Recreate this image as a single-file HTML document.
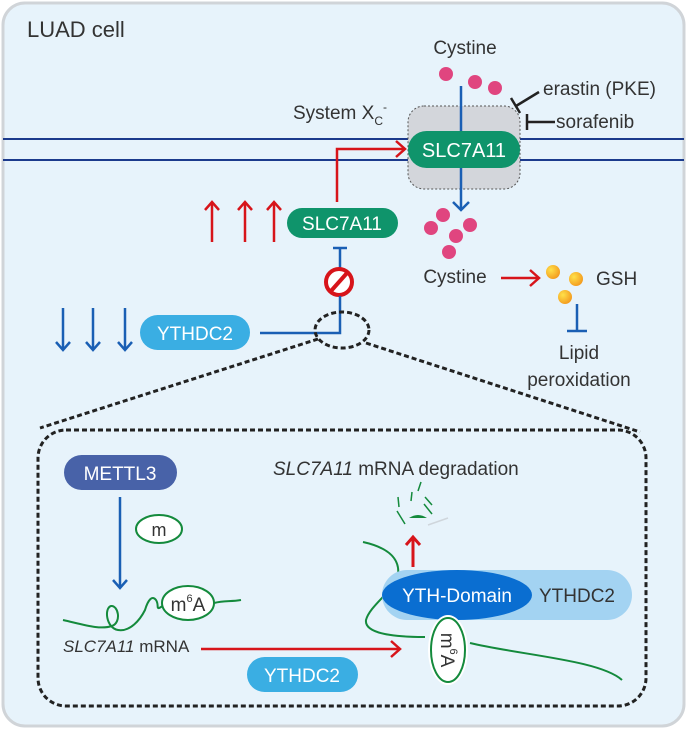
<!DOCTYPE html>
<html><head><meta charset="utf-8"><style>
html,body{margin:0;padding:0;background:#fff}
svg{display:block}
text{font-family:"Liberation Sans",Arial,sans-serif}
</style></head><body>
<svg width="688" height="730" viewBox="0 0 688 730" xmlns="http://www.w3.org/2000/svg">
<defs>
<radialGradient id="og" cx="0.35" cy="0.35" r="0.7"><stop offset="0" stop-color="#ffe14a"/><stop offset="1" stop-color="#f39a1e"/></radialGradient>
</defs>
<rect x="3" y="3" width="681" height="723" rx="22" fill="#e7f3fb" stroke="#d0d4d8" stroke-width="3"/>
<text x="27" y="37" font-size="22" fill="#333">LUAD cell</text>

<line x1="3" y1="139" x2="684" y2="139" stroke="#1b3a8c" stroke-width="2"/>
<line x1="3" y1="160" x2="684" y2="160" stroke="#1b3a8c" stroke-width="2"/>

<rect x="408" y="106" width="112" height="83" rx="16" fill="#d3d6db" stroke="#555" stroke-width="1" stroke-dasharray="2,2"/>
<text x="293" y="119" font-size="19" fill="#333">System X<tspan font-size="12" dy="6">C</tspan><tspan font-size="12" dy="-14">-</tspan></text>
<text x="465" y="54" font-size="19" fill="#333" text-anchor="middle">Cystine</text>
<circle cx="446" cy="74" r="7" fill="#e0457f"/>
<circle cx="475" cy="82" r="7" fill="#e0457f"/>
<circle cx="495" cy="88" r="7" fill="#e0457f"/>
<line x1="461" y1="86" x2="461" y2="132" stroke="#1a5fb4" stroke-width="2.5"/>
<rect x="408" y="131" width="112" height="37" rx="18.5" fill="#0f946b"/>
<text x="464" y="157" font-size="20" fill="#fff" text-anchor="middle">SLC7A11</text>
<line x1="461" y1="168" x2="461" y2="209" stroke="#1a5fb4" stroke-width="2.5"/>
<polyline points="453,202 461,210 469,202" fill="none" stroke="#1a5fb4" stroke-width="2.5"/>

<line x1="539" y1="92" x2="516" y2="106" stroke="#222" stroke-width="2.5"/>
<line x1="511" y1="98" x2="520" y2="113" stroke="#222" stroke-width="2.5"/>
<text x="543" y="95" font-size="19" fill="#333">erastin (PKE)</text>
<line x1="527" y1="122" x2="555" y2="122" stroke="#222" stroke-width="2.5"/>
<line x1="527" y1="114" x2="527" y2="130" stroke="#222" stroke-width="2.5"/>
<text x="556" y="128" font-size="19" fill="#333">sorafenib</text>

<circle cx="443" cy="215" r="7" fill="#e0457f"/>
<circle cx="431" cy="228" r="7" fill="#e0457f"/>
<circle cx="470" cy="225" r="7" fill="#e0457f"/>
<circle cx="456" cy="236" r="7" fill="#e0457f"/>
<circle cx="449" cy="252" r="7" fill="#e0457f"/>
<text x="455" y="283" font-size="19" fill="#333" text-anchor="middle">Cystine</text>
<line x1="501" y1="278" x2="538" y2="278" stroke="#d7141a" stroke-width="2.5"/>
<polyline points="530,270 539,278 530,286" fill="none" stroke="#d7141a" stroke-width="2.5"/>
<circle cx="553" cy="272" r="7" fill="url(#og)"/>
<circle cx="576" cy="279" r="7" fill="url(#og)"/>
<circle cx="565" cy="297" r="7" fill="url(#og)"/>
<text x="596" y="285" font-size="19" fill="#333">GSH</text>
<line x1="577" y1="304" x2="577" y2="331" stroke="#1a5fb4" stroke-width="2.5"/>
<line x1="567" y1="331" x2="587" y2="331" stroke="#1a5fb4" stroke-width="2.5"/>
<text x="579" y="359" font-size="19" fill="#333" text-anchor="middle">Lipid</text>
<text x="579" y="386" font-size="19" fill="#333" text-anchor="middle">peroxidation</text>

<polyline points="337,202 337,149 404,149" fill="none" stroke="#d7141a" stroke-width="2.5"/>
<polyline points="396,141 405,149 396,157" fill="none" stroke="#d7141a" stroke-width="2.5"/>
<rect x="287" y="208" width="111" height="30" rx="15" fill="#0f946b"/>
<text x="342" y="230" font-size="19" fill="#fff" text-anchor="middle">SLC7A11</text>
<g stroke="#d7141a" stroke-width="2.5" fill="none">
<line x1="212" y1="242" x2="212" y2="203"/><polyline points="205,210 212,202 219,210"/>
<line x1="245" y1="242" x2="245" y2="203"/><polyline points="238,210 245,202 252,210"/>
<line x1="274" y1="242" x2="274" y2="203"/><polyline points="267,210 274,202 281,210"/>
</g>
<line x1="333" y1="248" x2="347" y2="248" stroke="#1a5fb4" stroke-width="2.5"/>
<line x1="340" y1="248" x2="340" y2="268" stroke="#1a5fb4" stroke-width="2.5"/>
<circle cx="339" cy="282" r="13" fill="#fff" stroke="#d7141a" stroke-width="4"/>
<line x1="331" y1="291" x2="347" y2="273" stroke="#d7141a" stroke-width="4"/>
<polyline points="340,296 340,333 260,333" fill="none" stroke="#1a5fb4" stroke-width="2.5"/>

<rect x="140" y="315" width="110" height="35" rx="17.5" fill="#3aaee3"/>
<text x="195" y="340" font-size="19" fill="#fff" text-anchor="middle">YTHDC2</text>
<g stroke="#1a5fb4" stroke-width="2.5" fill="none">
<line x1="63" y1="308" x2="63" y2="349"/><polyline points="56,342 63,350 70,342"/>
<line x1="93" y1="308" x2="93" y2="349"/><polyline points="86,342 93,350 100,342"/>
<line x1="125" y1="308" x2="125" y2="349"/><polyline points="118,342 125,350 132,342"/>
</g>

<ellipse cx="342" cy="330" rx="27" ry="18" fill="none" stroke="#222" stroke-width="3" stroke-dasharray="5,3"/>
<line x1="318" y1="339" x2="40" y2="428" stroke="#222" stroke-width="3" stroke-dasharray="5,3"/>
<line x1="366" y1="343" x2="640" y2="432" stroke="#222" stroke-width="3" stroke-dasharray="5,3"/>
<rect x="38" y="430" width="608" height="276" rx="28" fill="none" stroke="#222" stroke-width="3" stroke-dasharray="5,3"/>

<text x="273" y="475" font-size="19" fill="#333"><tspan font-style="italic">SLC7A11</tspan> mRNA degradation</text>

<rect x="64" y="455" width="113" height="35" rx="17.5" fill="#4862a8"/>
<text x="120" y="480" font-size="19" fill="#fff" text-anchor="middle">METTL3</text>
<line x1="120" y1="497" x2="120" y2="587" stroke="#1a5fb4" stroke-width="2.5"/>
<polyline points="113,580 120,588 127,580" fill="none" stroke="#1a5fb4" stroke-width="2.5"/>
<ellipse cx="159" cy="529" rx="23" ry="14" fill="#fff" stroke="#148a3c" stroke-width="2"/>
<text x="159" y="536" font-size="18" fill="#333" text-anchor="middle">m</text>
<path d="M63,620 C85,625 100,630 112,626 C122,622 118,605 111,606 C104,608 106,628 118,630 C130,632 140,620 145,610 C148,600 152,595 156,600 C160,606 154,612 164,605 M214,603 C225,600 230,602 241,600" fill="none" stroke="#148a3c" stroke-width="2"/>
<ellipse cx="188" cy="603" rx="26" ry="17" fill="#fff" stroke="#148a3c" stroke-width="2"/>
<text x="188" y="611" font-size="19" fill="#333" text-anchor="middle">m<tspan font-size="11" dy="-9">6</tspan><tspan dy="9">A</tspan></text>
<text x="63" y="652" font-size="17" fill="#333"><tspan font-style="italic">SLC7A11</tspan> mRNA</text>
<line x1="201" y1="649" x2="399" y2="649" stroke="#d7141a" stroke-width="2.5"/>
<polyline points="391,641 400,649 391,657" fill="none" stroke="#d7141a" stroke-width="2.5"/>
<rect x="247" y="657" width="111" height="35" rx="17.5" fill="#3aaee3"/>
<text x="302" y="682" font-size="19" fill="#fff" text-anchor="middle">YTHDC2</text>

<path d="M363,542 C390,548 400,560 398,575 C395,590 370,605 366,620 C364,635 400,637 425,637 M470,643 C520,655 600,660 622,680" fill="none" stroke="#148a3c" stroke-width="2"/>
<rect x="382" y="570" width="250" height="50" rx="25" fill="#a3d3f2"/>
<ellipse cx="457" cy="595" rx="75" ry="25" fill="#0a6ed1"/>
<text x="457" y="602" font-size="19" fill="#fff" text-anchor="middle">YTH-Domain</text>
<text x="577" y="602" font-size="19" fill="#333" text-anchor="middle">YTHDC2</text>
<ellipse cx="448" cy="650" rx="20" ry="35" fill="#fff"/>
<ellipse cx="448" cy="650" rx="17" ry="32" fill="#fff" stroke="#148a3c" stroke-width="2"/>
<text transform="translate(441,650) rotate(90)" font-size="19" fill="#333" text-anchor="middle">m<tspan font-size="11" dy="-9">6</tspan><tspan dy="9">A</tspan></text>
<line x1="413" y1="567" x2="413" y2="538" stroke="#d7141a" stroke-width="3"/>
<polyline points="406,545 413,537 420,545" fill="none" stroke="#d7141a" stroke-width="3"/>
<g stroke="#148a3c" stroke-width="1.5" fill="none">
<line x1="397" y1="511" x2="405" y2="524"/>
<line x1="398" y1="497" x2="399" y2="507"/>
<line x1="411" y1="501" x2="412" y2="492"/>
<line x1="425" y1="497" x2="432" y2="505"/>
<line x1="424" y1="504" x2="432" y2="514"/>
<line x1="421" y1="482" x2="418" y2="491"/>
</g>
<path d="M409,518 Q418,512 427,518 Z" fill="#148a3c"/>
<line x1="428" y1="525" x2="448" y2="518" stroke="#cfd6dc" stroke-width="1.5"/>
</svg>
</body></html>
